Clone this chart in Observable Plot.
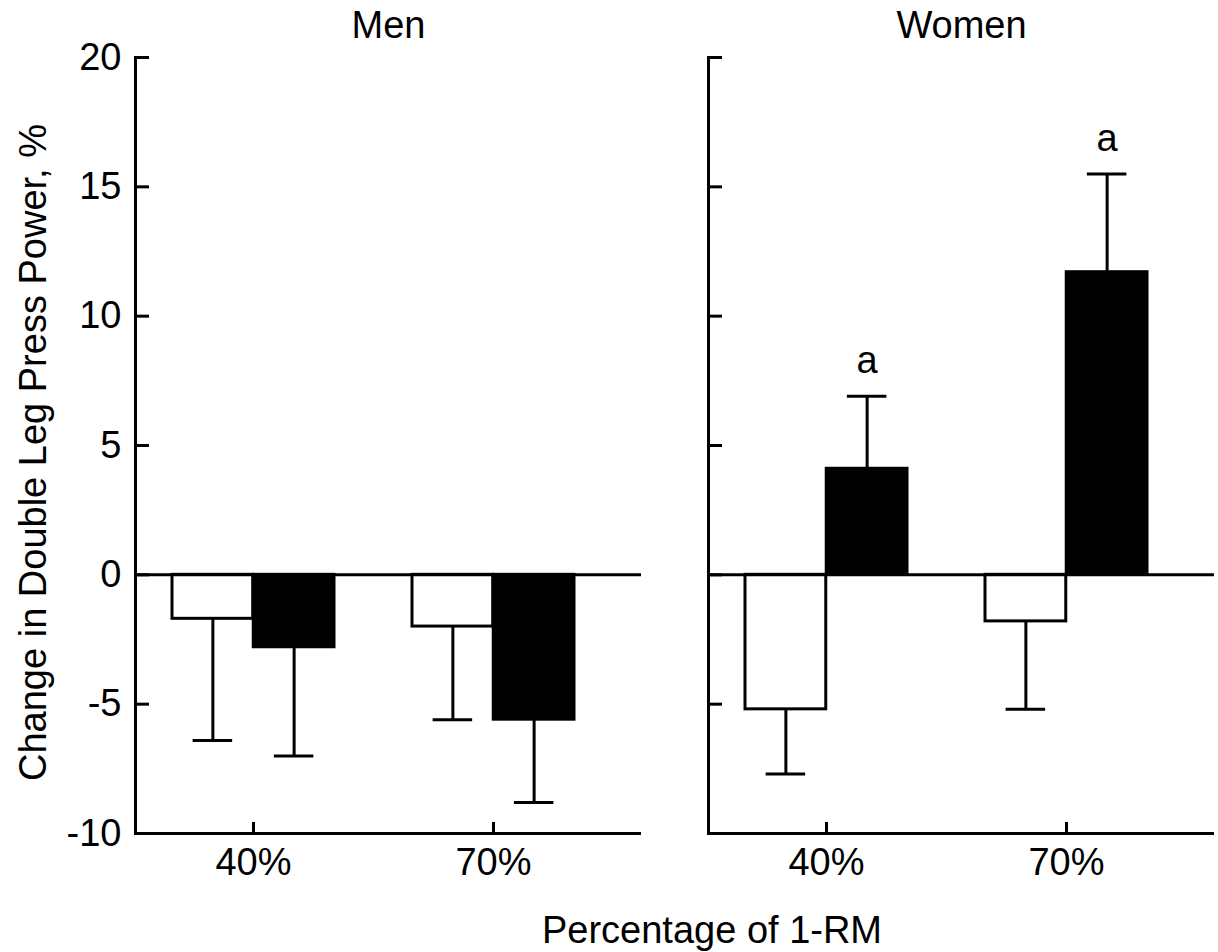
<!DOCTYPE html>
<html>
<head>
<meta charset="utf-8">
<script src="https://cdn.jsdelivr.net/npm/d3@7"></script>
<script src="https://cdn.jsdelivr.net/npm/@observablehq/plot@0.6"></script>
<style>
  body { margin: 0; background: #fff; }
  #wrap { position: relative; width: 1218px; height: 952px; font-family: "Liberation Sans", Arial, sans-serif; }
  #xlabel { position: absolute; top: 911px; left: 712px; transform: translateX(-50%); font-size: 38px; line-height: 38px; color: #000; white-space: nowrap; }
</style>
</head>
<body>
<div id="wrap"><div id="chart"></div><div id="xlabel"></div></div>
<script>
// ---- data ----
const sexes = ["Men", "Women"];
const loads = ["40%", "70%"];
const groups = ["Open", "Filled"];           // open (white) and filled (black) bars
// order within each array: 40% open, 40% filled, 70% open, 70% filled
const menMean   = [-1.7, -2.8, -2.0, -5.6];
const menSE     = [ 4.7,  4.2,  3.6,  3.2];
const menSig    = ["", "", "", ""];
const womenMean = [-5.2,  4.1, -1.8, 11.7];
const womenSE   = [ 2.5,  2.8,  3.4,  3.8];
const womenSig  = ["", "a", "", "a"];
const yTicks = [-10, -5, 0, 5, 10, 15, 20];
const yLabel = "Change in Double Leg Press Power, %";
const xLabel = "Percentage of 1-RM";

const rows = [];
[[menMean, menSE, menSig], [womenMean, womenSE, womenSig]].forEach(([m, s, g], si) => {
  loads.forEach((load, li) => groups.forEach((group, gi) => {
    const k = li * 2 + gi;
    rows.push({sex: sexes[si], load, group, mean: m[k], se: s[k],
               end: m[k] + Math.sign(m[k]) * s[k], sig: g[k]});
  }));
});

// ---- layout ----
const W = 1218, H = 890;
const mL = 135, mR = 3, mT = 57, mB = 57;
const fxPadIn = 0.1168;
const xPadIn = 0.325, xPadOut = 0.2146, xAlign = 0.36;
const facetW = (W - mL - mR) / (2 - fxPadIn) * (1 - fxPadIn);
const band = facetW * (1 - xPadIn) / (loads.length - xPadIn + 2 * xPadOut);
const half = band / 2, quarter = band / 4, capHalf = 20;
const sw = 3;

const isOpen = d => d.group === "Open";
const isFilled = d => d.group === "Filled";

const chart = Plot.plot({
  width: W, height: H,
  marginLeft: mL, marginRight: mR, marginTop: mT, marginBottom: mB,
  style: {fontFamily: "'Liberation Sans', Arial, sans-serif", fontSize: "38px", color: "black", background: "white"},
  fx: {domain: sexes, paddingInner: fxPadIn, paddingOuter: 0, axis: null, label: null},
  x: {domain: loads, paddingInner: xPadIn, paddingOuter: xPadOut, align: xAlign, axis: null, label: null},
  y: {domain: [-10, 20], axis: null, label: null},
  marks: [
    Plot.barY(rows, {filter: isOpen, fx: "sex", x: "load", y1: 0, y2: "mean", fill: "white", stroke: "black", strokeWidth: sw, insetRight: half}),
    Plot.barY(rows, {filter: isFilled, fx: "sex", x: "load", y1: 0, y2: "mean", fill: "black", stroke: "black", strokeWidth: sw, insetLeft: half}),
    Plot.ruleX(rows, {filter: isOpen, fx: "sex", x: "load", y1: "mean", y2: "end", dx: -quarter, strokeWidth: sw}),
    Plot.ruleX(rows, {filter: isFilled, fx: "sex", x: "load", y1: "mean", y2: "end", dx: quarter, strokeWidth: sw}),
    Plot.tickY(rows, {filter: isOpen, fx: "sex", x: "load", y: "end", dx: -quarter, insetLeft: half - capHalf, insetRight: half - capHalf, strokeWidth: sw}),
    Plot.tickY(rows, {filter: isFilled, fx: "sex", x: "load", y: "end", dx: quarter, insetLeft: half - capHalf, insetRight: half - capHalf, strokeWidth: sw}),
    Plot.ruleY([0], {strokeWidth: sw}),
    Plot.ruleY([-10], {strokeWidth: sw}),
    Plot.frame({anchor: "left", strokeWidth: sw}),
    Plot.axisY(yTicks, {tickSize: -14, fill: "none", strokeWidth: sw, facetAnchor: null, label: null}),
    Plot.axisY(yTicks, {tickSize: 0, tickPadding: 14, label: null, tickFormat: d => String(d)}),
    Plot.axisX({tickSize: -11, fill: "none", strokeWidth: sw, label: null}),
    Plot.axisX({tickSize: 0, tickPadding: 15, label: null}),
    Plot.text(sexes, {fx: d => d, text: d => d, frameAnchor: "top", lineAnchor: "bottom", dy: -20}),
    Plot.text(rows, {filter: d => d.sig, fx: "sex", x: "load", y: "end", text: "sig", dx: quarter, dy: -23, lineAnchor: "bottom"}),
    Plot.text([yLabel], {text: d => d, frameAnchor: "left", textAnchor: "middle", lineAnchor: "middle", rotate: -90, dx: -102, dy: 7, facetAnchor: "left"})
  ]
});
document.getElementById("chart").appendChild(chart);
document.getElementById("xlabel").textContent = xLabel;
</script>
</body>
</html>
